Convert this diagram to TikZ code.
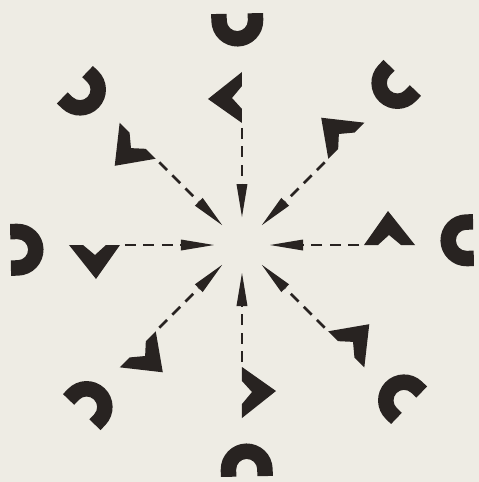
\documentclass[tikz,border=0pt]{standalone}
\usetikzlibrary{arrows.meta}
\definecolor{paper}{RGB}{238,236,228}
\definecolor{ink}{RGB}{40,35,33}
\begin{document}
\begin{tikzpicture}[x=1pt,y=1pt,
  inkshape/.style={fill=ink, draw=none},
  dashline/.style={draw=ink, line width=2.8pt, dash pattern=on 11pt off 7.5pt,
    -{Triangle[length=33pt,width=11pt,line width=0pt]}},
]
\fill[paper] (-242,-237) rectangle (237,245);
\useasboundingbox (-242,-237) rectangle (237,245);
\coordinate (c) at (0,0);
\foreach \a in {0,45,...,315}{
  \begin{scope}[rotate=\a]
    \fill[inkshape] (173,0) -- (146,34) -- (122,0) -- (136,0) -- (147,10) -- (159,0) -- cycle;
  \end{scope}
  \begin{scope}[rotate=\a+1.2, shift={(224.5,0)}]
    \fill[inkshape] (7,26) -- (0,26) arc[start angle=90,end angle=270,radius=26] -- (7,-26) -- (7,-10.5) -- (0,-10.5) arc[start angle=270,end angle=90,radius=10.5] -- (7,10.5) -- cycle;
  \end{scope}
  \coordinate (s\a) at (\a:117);
  \coordinate (t\a) at (\a:28);
  \draw[dashline] (s\a) -- (t\a);
}
\end{tikzpicture}
\end{document}
